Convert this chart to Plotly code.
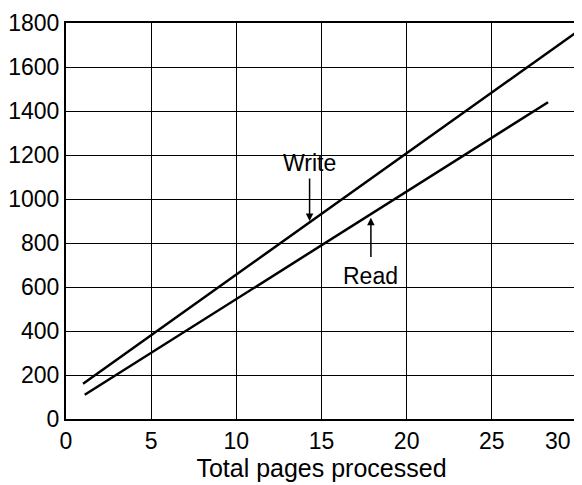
import plotly.graph_objects as go

write_x = [1, 30]
write_y = [160, 1760]
read_x = [1.1, 28.3]
read_y = [110, 1440]

x_ticks = [0, 5, 10, 15, 20, 25, 30]
x_labels = ["0", "5", "10", "15", "20", "25", "30\u00a0\u00a0\u00a0\u00a0\u00a0\u00a0"]
y_ticks = [0, 200, 400, 600, 800, 1000, 1200, 1400, 1600, 1800]

fig = go.Figure()
fig.add_trace(go.Scatter(x=write_x, y=write_y, mode="lines",
                         line=dict(color="black", width=2.5), name="Write"))
fig.add_trace(go.Scatter(x=read_x, y=read_y, mode="lines",
                         line=dict(color="black", width=2.5), name="Read"))

font = dict(family="Liberation Sans, Arial, sans-serif", color="black")

fig.add_annotation(x=14.3, y=900, ax=14.3, ay=1100, xref="x", yref="y",
                   axref="x", ayref="y", showarrow=True, arrowhead=2,
                   arrowsize=1, arrowwidth=1.5, arrowcolor="black", text="")
fig.add_annotation(x=14.3, y=1095, text="Write", showarrow=False,
                   yanchor="bottom", font=dict(size=23, **font))
fig.add_annotation(x=17.9, y=915, ax=17.9, ay=730, xref="x", yref="y",
                   axref="x", ayref="y", showarrow=True, arrowhead=2,
                   arrowsize=1, arrowwidth=1.5, arrowcolor="black", text="")
fig.add_annotation(x=17.9, y=720, text="Read", showarrow=False,
                   yanchor="top", font=dict(size=23, **font))

# page body has an 8px margin; size the figure to fill the window
fig.update_layout(
    width=574, height=477,
    margin=dict(l=58, r=5, t=15, b=66),
    plot_bgcolor="white", paper_bgcolor="white",
    showlegend=False,
    font=dict(size=23, **font),
)
fig.update_xaxes(range=[0, 30], tickvals=x_ticks, ticktext=x_labels, showgrid=True,
                 gridcolor="black", gridwidth=1, showline=True,
                 linecolor="black", linewidth=2, mirror=True,
                 ticks="", zeroline=False, automargin=False,
                 ticklabeloverflow="allow",
                 title=dict(text="Total pages processed", font=dict(size=25, **font), standoff=5),
                 tickfont=dict(size=23, **font))
fig.update_yaxes(range=[0, 1800], tickvals=y_ticks, showgrid=True,
                 gridcolor="black", gridwidth=1, showline=True,
                 linecolor="black", linewidth=2, mirror=True,
                 ticks="", zeroline=False, automargin=False,
                 ticklabeloverflow="allow",
                 tickfont=dict(size=23, **font))

fig.write_html("out.html")
